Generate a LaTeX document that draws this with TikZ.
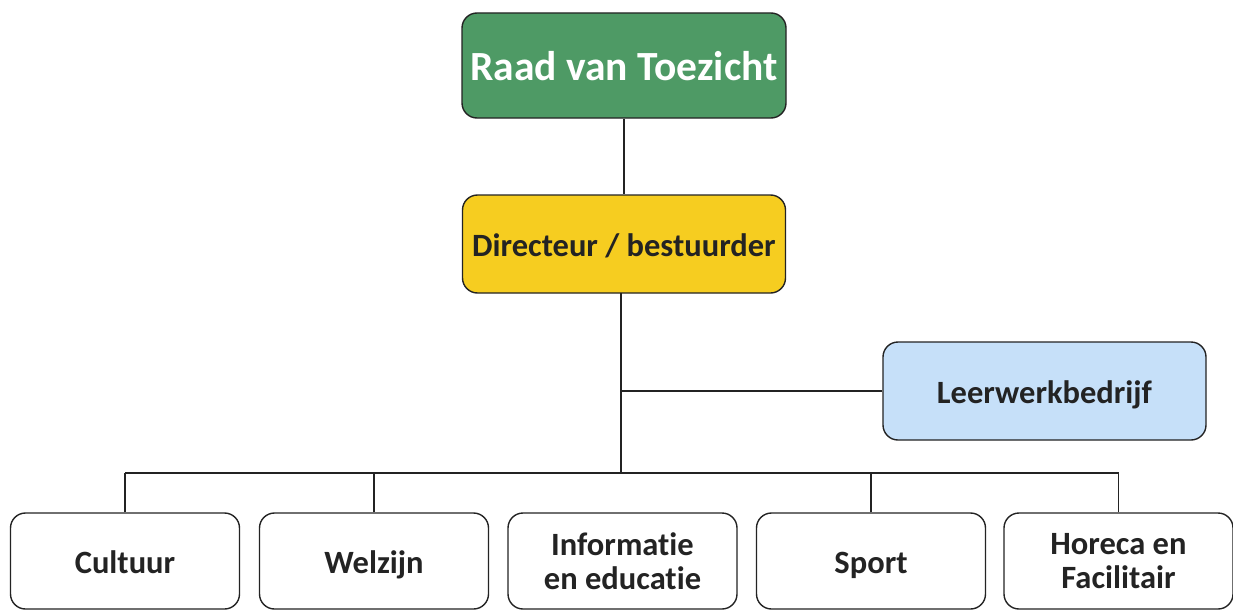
\documentclass[tikz,border=0pt]{standalone}
\usepackage{fontspec}
\setmainfont{Carlito}[Ligatures=NoCommon]
\definecolor{raadgreen}{RGB}{78,154,101}
\definecolor{diryellow}{RGB}{246,205,32}
\definecolor{leerblue}{RGB}{198,224,249}
\definecolor{edge}{RGB}{35,35,35}
\newcommand{\ps}{\rule[-0.22em]{0pt}{1.18em}}
\begin{document}
\begin{tikzpicture}[x=1pt,y=-1pt,
  box/.style={draw=edge, line width=1.4pt, rounded corners=15pt, inner sep=0pt,
    align=center, font=\fontsize{32.5}{34}\selectfont\bfseries, text=edge},
  link/.style={draw=edge, line width=1.2pt}]
\useasboundingbox (0,0) rectangle (1233,610);
\node[box, fill=raadgreen, text=white, minimum width=324pt, minimum height=105pt,
  font=\fontsize{41.5}{45}\selectfont\bfseries] (raad) at (624,65.5) {\ps Raad van Toezicht};
\node[box, fill=diryellow, minimum width=323pt, minimum height=98pt] (dir) at (624,244) {\ps Directeur / bestuurder};
\node[box, fill=leerblue, minimum width=323pt, minimum height=98pt] (leer) at (1044.5,391) {\ps Leerwerkbedrijf};
\node[box, fill=white, minimum width=229pt, minimum height=96pt] (cult) at (125,561) {\ps Cultuur};
\node[box, fill=white, minimum width=229pt, minimum height=96pt] (welz) at (374,561) {\ps Welzijn};
\node[box, fill=white, minimum width=229pt, minimum height=96pt] (info) at (622.5,561) {Informatie\\en educatie};
\node[box, fill=white, minimum width=229pt, minimum height=96pt] (sport) at (871,561) {\ps Sport};
\node[box, fill=white, minimum width=229pt, minimum height=96pt] (hor) at (1118.5,561) {Horeca en\\Facilitair};
\coordinate (bus) at (621,473);
\coordinate (spine) at (621,293);
\draw[link] (raad.south) -- (dir.north);
\draw[link] (spine) -- (bus);
\draw[link] (spine |- leer.west) -- (leer.west);
\draw[link] (cult.north |- bus) -- (hor.north |- bus);
\foreach \n in {cult,welz,sport,hor} \draw[link] (\n.north) -- (\n.north |- bus);
\end{tikzpicture}
\end{document}
